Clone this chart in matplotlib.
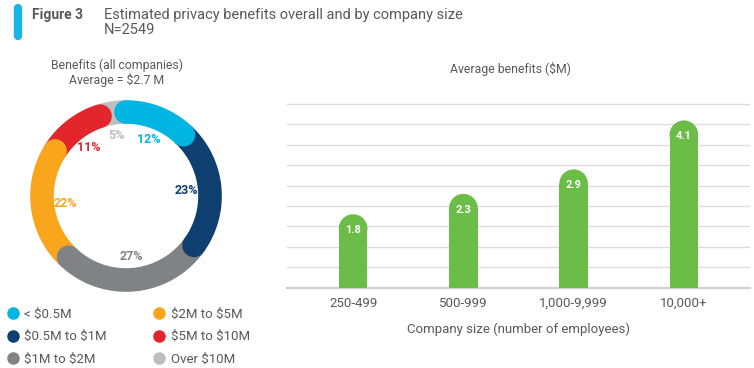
import numpy as np
import matplotlib
matplotlib.use("Agg")
from matplotlib import pyplot as plt
from matplotlib.lines import Line2D
from matplotlib.patches import Ellipse

plt.rcParams["font.family"] = ["Roboto", "DejaVu Sans"]
plt.rcParams["text.parse_math"] = False

# donut data (share of companies by benefit range)
ranges = ["< $0.5M", "$0.5M to $1M", "$1M to $2M", "$2M to $5M", "$5M to $10M", "Over $10M"]
shares = [12, 23, 27, 22, 11, 5]
ring_colors = ["#00b5e2", "#0f3f71", "#808285", "#f9a61d", "#e3262b", "#bdbec1"]

# bar data (average benefits, $M)
sizes = ["250-499", "500-999", "1,000-9,999", "10,000+"]
benefits = [1.8, 2.3, 2.9, 4.1]

W, H = 754, 368
TXT = "#58595b"
GREEN = "#6cbd48"


def box(x0, y0, x1, y1):
    "pixel box (top-left origin) -> figure fraction rect"
    return [x0 / W, 1 - y1 / H, (x1 - x0) / W, (y1 - y0) / H]


fig = plt.figure(figsize=(W / 100, H / 100), dpi=100)

# header
fig.add_artist(Line2D([18 / W, 18 / W], [1 - 8 / H, 1 - 36 / H], color="#1ab5e8",
                      lw=6, solid_capstyle="round"))
fig.text(32 / W, 1 - 15 / H, "Figure 3", fontsize=10, fontweight="bold", color=TXT, va="center")
fig.text(104 / W, 1 - 15 / H, "Estimated privacy benefits overall and by company size",
         fontsize=10.5, color=TXT, va="center")
fig.text(104 / W, 1 - 30 / H, "N=2549", fontsize=10.5, color=TXT, va="center")

# donut
ax1 = fig.add_axes(box(20, 90, 232, 302))
ax1.set_xlim(-106, 106)
ax1.set_ylim(-106, 106)
ax1.axis("off")
r_mid = 84
starts = 90 - 3.6 * np.concatenate([[0], np.cumsum(shares)[:-1]])
ends = starts - 3.6 * np.array(shares)
for i in range(len(shares) - 1, -1, -1):
    t = np.radians(np.linspace(starts[i], ends[i], 100))
    ax1.plot(r_mid * np.cos(t), r_mid * np.sin(t), color=ring_colors[i], lw=17,
             solid_capstyle="round")
for i, s in enumerate(shares):
    m = np.radians((starts[i] + ends[i]) / 2)
    ax1.text(61 * np.cos(m), 61 * np.sin(m), f"{s}%", color=ring_colors[i],
             fontsize=9, fontweight="bold", ha="center", va="center")
fig.text(117 / W, 1 - 65 / H, "Benefits (all companies)", fontsize=8.8, color=TXT, ha="center", va="center")
fig.text(117 / W, 1 - 80 / H, "Average = $2.7 M", fontsize=8.8, color=TXT, ha="center", va="center")

handles = [Line2D([], [], marker="o", ls="", color=c, markersize=8, label=l)
           for c, l in zip(ring_colors, ranges)]
fig.legend(handles=handles, ncol=2, loc="upper left", bbox_to_anchor=(6 / W, 1 - 308 / H),
           frameon=False, fontsize=9.5, labelcolor=TXT, handlelength=1.0, handletextpad=0.4,
           columnspacing=3.45, labelspacing=0.7, borderpad=0, borderaxespad=0)

# bars
ax2 = fig.add_axes(box(287, 100, 750, 287.7))
x = np.arange(len(sizes))
ax2.set_xlim(-0.6, 3.6)
ax2.set_ylim(0, 4.6)
fig.canvas.draw()
px = ax2.transData.transform([[0, 0], [1, 1]])
ppx, ppy = px[1] - px[0]
bw = 0.26
ry = bw * ppx / 2 / ppy
for xi, v in zip(x, benefits):
    ax2.bar(xi, v - ry, width=bw, color=GREEN, zorder=3)
    ax2.add_patch(Ellipse((xi, v - ry), bw, 2 * ry, color=GREEN, zorder=3, lw=0))
    ax2.text(xi, v - 16 / ppy, f"{v}", color="white", fontsize=8, fontweight="bold",
             ha="center", va="center", zorder=4)
ax2.set_yticks(np.arange(0.5, 4.6, 0.5))
ax2.yaxis.grid(True, color="#dcdcdc", lw=1)
ax2.set_axisbelow(True)
ax2.axhline(0, color="#d0d0d0", lw=1.6, zorder=2, clip_on=False)
ax2.tick_params(left=False, labelleft=False, bottom=False, labelsize=9.5, labelcolor=TXT, pad=3)
ax2.set_xticks(x, sizes)
for s in ax2.spines.values():
    s.set_visible(False)
ax2.set_xlabel("Company size (number of employees)", fontsize=9.5, color=TXT, labelpad=9)
fig.text(511 / W, 1 - 69 / H, "Average benefits ($M)", fontsize=8.8, color=TXT, ha="center", va="center")

fig.savefig("out.png", dpi=100)
